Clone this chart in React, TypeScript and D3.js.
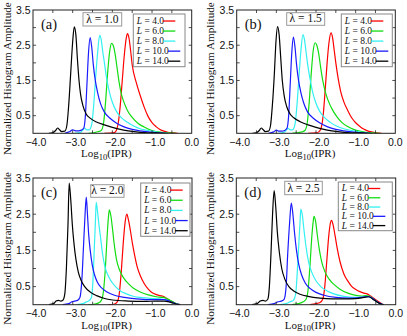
import React from "react";
import * as d3 from "d3";

type Pt = [number, number];

// legend / panel texts
const sizes = ["4.0", "6.0", "8.0", "10.0", "14.0"];
const colors = ["#ff0000", "#11dd11", "#33f0f0", "#1a1aff", "#000000"];
const panelNames = ["(a)", "(b)", "(c)", "(d)"];
const lambdas = ["1.0", "1.5", "2.0", "2.5"];
const xTicks = [-4, -3, -2, -1, 0];
const yTicks = [0.5, 1.5, 2.5, 3.5];

// (a) lambda = 1.0
const a4: Pt[] = [[-2.2,0],[-1.95,0.02],[-1.9,0.08],[-1.85,0.3],[-1.8,0.8],[-1.75,1.5],[-1.7,2.2],[-1.65,2.7],[-1.62,2.83],[-1.58,2.7],[-1.54,2.35],[-1.5,1.95],[-1.4,1.45],[-1.3,1.08],[-1.2,0.75],[-1.1,0.48],[-1.0,0.3],[-0.9,0.19],[-0.8,0.11],[-0.7,0.06],[-0.6,0.03],[-0.45,0.01],[-0.35,0]];
const a6: Pt[] = [[-2.6,0],[-2.45,0.02],[-2.35,0.05],[-2.28,0.08],[-2.22,0.3],[-2.17,0.9],[-2.12,1.7],[-2.07,2.3],[-2.02,2.55],[-1.98,2.5],[-1.93,2.25],[-1.88,1.85],[-1.83,1.45],[-1.78,1.15],[-1.72,0.92],[-1.62,0.65],[-1.5,0.45],[-1.35,0.28],[-1.2,0.18],[-1.0,0.08],[-0.85,0.04],[-0.7,0.02],[-0.5,0.005],[-0.4,0]];
const a8: Pt[] = [[-2.95,0],[-2.8,0.03],[-2.74,0.1],[-2.7,0.15],[-2.65,0.1],[-2.58,0.1],[-2.52,0.25],[-2.47,0.8],[-2.42,1.6],[-2.37,2.3],[-2.32,2.78],[-2.28,2.65],[-2.24,2.3],[-2.2,2.0],[-2.15,1.6],[-2.08,1.2],[-2.0,0.88],[-1.9,0.63],[-1.78,0.45],[-1.63,0.32],[-1.45,0.2],[-1.3,0.13],[-1.1,0.08],[-0.95,0.05],[-0.8,0.02],[-0.6,0]];
const a10: Pt[] = [[-3.2,0],[-3.07,0.05],[-3.0,0.1],[-2.93,0.07],[-2.85,0.07],[-2.78,0.09],[-2.72,0.15],[-2.68,0.5],[-2.64,1.4],[-2.6,2.3],[-2.56,2.72],[-2.52,2.45],[-2.48,1.95],[-2.43,1.5],[-2.37,1.15],[-2.3,0.85],[-2.2,0.6],[-2.05,0.42],[-1.9,0.29],[-1.72,0.19],[-1.5,0.11],[-1.3,0.07],[-1.1,0.04],[-0.9,0.02],[-0.7,0]];
const a14: Pt[] = [[-3.6,0],[-3.5,0.02],[-3.43,0.08],[-3.38,0.15],[-3.33,0.1],[-3.28,0.05],[-3.2,0.06],[-3.15,0.2],[-3.1,0.8],[-3.05,1.7],[-3.0,2.6],[-2.96,3.02],[-2.92,2.8],[-2.88,2.1],[-2.84,1.5],[-2.8,1.1],[-2.74,0.78],[-2.66,0.55],[-2.56,0.43],[-2.4,0.32],[-2.2,0.24],[-2.0,0.17],[-1.8,0.11],[-1.6,0.07],[-1.4,0.04],[-1.2,0.02],[-0.9,0.01],[-0.6,0]];

// (b) lambda = 1.5
const b4: Pt[] = [[-2.2,0],[-2.0,0.01],[-1.93,0.04],[-1.87,0.15],[-1.82,0.5],[-1.77,1.2],[-1.72,2.0],[-1.67,2.6],[-1.62,2.85],[-1.58,2.7],[-1.54,2.35],[-1.5,2.0],[-1.44,1.55],[-1.38,1.2],[-1.3,0.9],[-1.2,0.65],[-1.1,0.44],[-1.0,0.3],[-0.9,0.2],[-0.8,0.12],[-0.7,0.07],[-0.6,0.04],[-0.48,0.01],[-0.35,0]];
const b6: Pt[] = [[-2.6,0],[-2.45,0.02],[-2.35,0.04],[-2.28,0.08],[-2.22,0.3],[-2.17,0.9],[-2.12,1.7],[-2.07,2.35],[-2.02,2.57],[-1.98,2.5],[-1.93,2.25],[-1.88,1.85],[-1.83,1.5],[-1.77,1.2],[-1.7,0.95],[-1.6,0.7],[-1.48,0.48],[-1.35,0.31],[-1.2,0.19],[-1.05,0.11],[-0.9,0.06],[-0.75,0.03],[-0.55,0.01],[-0.4,0]];
const b8: Pt[] = [[-2.95,0],[-2.8,0.03],[-2.74,0.1],[-2.7,0.14],[-2.65,0.1],[-2.59,0.1],[-2.53,0.25],[-2.48,0.8],[-2.43,1.6],[-2.38,2.35],[-2.33,2.8],[-2.29,2.65],[-2.25,2.3],[-2.21,1.95],[-2.16,1.6],[-2.09,1.2],[-2.01,0.88],[-1.91,0.63],[-1.79,0.45],[-1.64,0.31],[-1.47,0.2],[-1.3,0.13],[-1.1,0.08],[-0.95,0.05],[-0.8,0.02],[-0.6,0]];
const b10: Pt[] = [[-3.2,0],[-3.07,0.04],[-3.0,0.09],[-2.93,0.06],[-2.86,0.06],[-2.79,0.08],[-2.73,0.15],[-2.69,0.5],[-2.65,1.4],[-2.61,2.3],[-2.57,2.73],[-2.53,2.45],[-2.49,1.95],[-2.44,1.5],[-2.38,1.15],[-2.31,0.86],[-2.21,0.6],[-2.06,0.42],[-1.9,0.29],[-1.72,0.19],[-1.5,0.11],[-1.3,0.07],[-1.1,0.04],[-0.9,0.02],[-0.7,0]];
const b14: Pt[] = [[-3.6,0],[-3.5,0.02],[-3.43,0.08],[-3.38,0.15],[-3.33,0.1],[-3.28,0.05],[-3.2,0.06],[-3.15,0.2],[-3.1,0.8],[-3.05,1.7],[-3.01,2.6],[-2.97,3.03],[-2.93,2.8],[-2.89,2.15],[-2.85,1.5],[-2.8,1.05],[-2.74,0.76],[-2.66,0.56],[-2.56,0.44],[-2.4,0.33],[-2.2,0.24],[-2.0,0.17],[-1.8,0.11],[-1.6,0.07],[-1.4,0.04],[-1.2,0.02],[-0.9,0.01],[-0.6,0]];

// (c) lambda = 2.0
const c4: Pt[] = [[-2.1,0],[-1.95,0.02],[-1.88,0.08],[-1.83,0.3],[-1.78,0.9],[-1.73,1.7],[-1.68,2.3],[-1.64,2.5],[-1.6,2.35],[-1.55,2.05],[-1.5,1.7],[-1.44,1.35],[-1.38,1.05],[-1.3,0.8],[-1.2,0.58],[-1.1,0.43],[-1.0,0.33],[-0.9,0.28],[-0.8,0.25],[-0.7,0.22],[-0.6,0.15],[-0.5,0.08],[-0.38,0.02],[-0.3,0]];
const c6: Pt[] = [[-2.6,0],[-2.45,0.02],[-2.35,0.05],[-2.28,0.12],[-2.23,0.35],[-2.18,1.0],[-2.14,1.8],[-2.1,2.45],[-2.08,2.62],[-2.04,2.45],[-2.0,2.1],[-1.96,1.7],[-1.9,1.25],[-1.82,0.95],[-1.72,0.74],[-1.6,0.58],[-1.48,0.46],[-1.3,0.35],[-1.1,0.27],[-0.9,0.22],[-0.72,0.2],[-0.6,0.15],[-0.48,0.08],[-0.35,0.01],[-0.3,0]];
const c8: Pt[] = [[-2.9,0],[-2.75,0.03],[-2.65,0.08],[-2.58,0.12],[-2.53,0.2],[-2.49,0.7],[-2.46,1.5],[-2.43,2.3],[-2.41,2.83],[-2.38,2.6],[-2.34,2.2],[-2.3,1.85],[-2.25,1.4],[-2.18,1.0],[-2.1,0.78],[-2.0,0.6],[-1.9,0.47],[-1.8,0.38],[-1.65,0.3],[-1.5,0.24],[-1.3,0.2],[-1.0,0.17],[-0.8,0.16],[-0.65,0.13],[-0.5,0.06],[-0.35,0.01],[-0.3,0]];
const c10: Pt[] = [[-3.25,0],[-3.1,0.03],[-3.02,0.08],[-2.95,0.1],[-2.88,0.12],[-2.82,0.2],[-2.77,0.7],[-2.73,1.6],[-2.69,2.5],[-2.66,2.97],[-2.63,2.5],[-2.6,1.95],[-2.56,1.5],[-2.51,1.1],[-2.45,0.82],[-2.38,0.62],[-2.28,0.47],[-2.15,0.36],[-1.95,0.26],[-1.7,0.2],[-1.4,0.16],[-1.1,0.14],[-0.85,0.14],[-0.7,0.14],[-0.55,0.09],[-0.4,0.02],[-0.3,0]];
const c14: Pt[] = [[-3.6,0],[-3.48,0.03],[-3.42,0.1],[-3.36,0.12],[-3.3,0.1],[-3.25,0.12],[-3.2,0.3],[-3.16,1.0],[-3.12,2.2],[-3.09,3.36],[-3.05,2.9],[-3.01,2.2],[-2.97,1.7],[-2.92,1.25],[-2.86,0.9],[-2.78,0.65],[-2.7,0.5],[-2.55,0.34],[-2.4,0.25],[-2.2,0.17],[-2.0,0.13],[-1.6,0.1],[-1.2,0.09],[-0.9,0.1],[-0.7,0.1],[-0.55,0.07],[-0.4,0.02],[-0.3,0]];

// (d) lambda = 2.5
const d4: Pt[] = [[-2.15,0],[-2.0,0.03],[-1.9,0.06],[-1.83,0.15],[-1.78,0.5],[-1.73,1.2],[-1.68,1.9],[-1.64,2.25],[-1.61,2.33],[-1.57,2.2],[-1.52,1.9],[-1.47,1.57],[-1.4,1.2],[-1.3,0.85],[-1.2,0.65],[-1.1,0.5],[-1.0,0.42],[-0.9,0.36],[-0.8,0.32],[-0.72,0.3],[-0.63,0.24],[-0.5,0.14],[-0.4,0.06],[-0.3,0]];
const d6: Pt[] = [[-2.6,0],[-2.45,0.03],[-2.32,0.08],[-2.25,0.15],[-2.2,0.4],[-2.15,1.1],[-2.11,1.8],[-2.07,2.3],[-2.05,2.44],[-2.01,2.3],[-1.97,1.95],[-1.92,1.55],[-1.86,1.2],[-1.78,0.92],[-1.68,0.72],[-1.55,0.56],[-1.4,0.43],[-1.2,0.32],[-1.0,0.26],[-0.85,0.24],[-0.75,0.25],[-0.65,0.23],[-0.55,0.15],[-0.45,0.07],[-0.35,0.01],[-0.3,0]];
const d8: Pt[] = [[-2.9,0],[-2.75,0.03],[-2.65,0.08],[-2.57,0.12],[-2.51,0.3],[-2.47,0.9],[-2.43,1.7],[-2.4,2.3],[-2.38,2.64],[-2.34,2.45],[-2.3,2.05],[-2.25,1.6],[-2.19,1.2],[-2.1,0.88],[-2.0,0.66],[-1.88,0.5],[-1.72,0.38],[-1.55,0.3],[-1.3,0.23],[-1.05,0.2],[-0.85,0.21],[-0.72,0.23],[-0.62,0.2],[-0.5,0.1],[-0.38,0.02],[-0.3,0]];
const d10: Pt[] = [[-3.2,0],[-3.05,0.03],[-2.95,0.08],[-2.87,0.1],[-2.8,0.15],[-2.75,0.5],[-2.71,1.4],[-2.66,2.3],[-2.62,2.81],[-2.58,2.5],[-2.54,2.0],[-2.49,1.5],[-2.43,1.1],[-2.36,0.82],[-2.27,0.6],[-2.15,0.45],[-2.0,0.34],[-1.8,0.26],[-1.5,0.2],[-1.2,0.18],[-0.95,0.19],[-0.78,0.22],[-0.66,0.22],[-0.55,0.15],[-0.42,0.05],[-0.32,0]];
const d14: Pt[] = [[-3.6,0],[-3.48,0.03],[-3.4,0.1],[-3.33,0.12],[-3.27,0.1],[-3.21,0.15],[-3.17,0.5],[-3.13,1.4],[-3.09,2.5],[-3.05,3.15],[-3.01,2.7],[-2.97,2.0],[-2.92,1.45],[-2.86,1.0],[-2.78,0.7],[-2.68,0.5],[-2.55,0.37],[-2.4,0.29],[-2.2,0.23],[-1.9,0.18],[-1.6,0.16],[-1.3,0.16],[-1.0,0.17],[-0.8,0.2],[-0.68,0.22],[-0.58,0.16],[-0.45,0.06],[-0.35,0.01],[-0.3,0]];

const curves: Pt[][][] = [
  [a4, a6, a8, a10, a14],
  [b4, b6, b8, b10, b14],
  [c4, c6, c8, c10, c14],
  [d4, d6, d8, d10, d14],
];

// frame, lambda box, legend box positions (px)
const layout = [
  { x0: 33, x1: 191.7, y0: 10, y1: 133.3, lam: [83, 12.7, 38.7, 13.3], leg: [133.3, 14, 51.7, 52.7] },
  { x0: 236.7, x1: 395.3, y0: 10, y1: 133.3, lam: [286.7, 12.7, 38, 12.6], leg: [341.3, 14, 51, 52.7] },
  { x0: 33, x1: 192, y0: 178, y1: 304.7, lam: [90.7, 184.7, 33.3, 12.6], leg: [140.7, 183, 49.3, 53.3] },
  { x0: 236.3, x1: 395.7, y0: 178, y1: 304.7, lam: [284.7, 181.3, 37.6, 13.4], leg: [338.3, 182, 54, 48.7] },
];

const serif = "'Liberation Serif', 'Times New Roman', serif";
const sans = "'Liberation Sans', Arial, sans-serif";

function Panel({ i }: { i: number }) {
  const L = layout[i];
  const x = d3.scaleLinear().domain([-4, 0]).range([L.x0, L.x1]);
  const y = d3.scaleLinear().domain([0, 3.5]).range([L.y1, L.y0]);
  const line = d3
    .line<Pt>()
    .x((d) => x(d[0]))
    .y((d) => y(d[1]))
    .curve(d3.curveMonotoneX);
  const xMinor = d3.range(-3.5, 0, 0.5);
  const yMinor = d3.range(0.5, 3.5, 0.5);
  const [lx, ly, lw, lh] = L.lam;
  const [gx, gy, gw, gh] = L.leg;
  const sp = gh / 5.25;
  const clipId = "clip" + i;

  return (
    <g>
      <defs>
        <clipPath id={clipId}>
          <rect x={L.x0} y={L.y0} width={L.x1 - L.x0} height={L.y1 - L.y0} />
        </clipPath>
      </defs>
      <g clipPath={`url(#${clipId})`}>
        {curves[i].map((c, k) => (
          <path key={k} d={line(c) || ""} fill="none" stroke={colors[k]} strokeWidth={1.2} />
        ))}
      </g>
      {/* ticks */}
      <g stroke="#222" strokeWidth={0.8}>
        {xMinor.map((v) => (
          <g key={"x" + v}>
            <line x1={x(v)} x2={x(v)} y1={L.y1} y2={L.y1 - 3} />
            <line x1={x(v)} x2={x(v)} y1={L.y0} y2={L.y0 + 3} />
          </g>
        ))}
        {yMinor.map((v) => (
          <g key={"y" + v}>
            <line x1={L.x0} x2={L.x0 + 3} y1={y(v)} y2={y(v)} />
            <line x1={L.x1} x2={L.x1 - 3} y1={y(v)} y2={y(v)} />
          </g>
        ))}
      </g>
      <rect x={L.x0} y={L.y0} width={L.x1 - L.x0} height={L.y1 - L.y0} fill="none" stroke="#222" strokeWidth={1} />
      {/* tick labels */}
      <g fontFamily={sans} fontSize={10.5} fill="#111">
        {xTicks.map((v) => (
          <text key={v} x={x(v) + (v < 0 ? 3 : 0)} y={L.y1 + 12.5} textAnchor="middle">
            {(v < 0 ? "\u2212" : "") + Math.abs(v).toFixed(1)}
          </text>
        ))}
        {yTicks.map((v) => (
          <text key={v} x={L.x0 - 2.5} y={y(v)} dy="0.35em" textAnchor="end">
            {v.toFixed(1)}
          </text>
        ))}
      </g>
      {/* axis titles */}
      <text
        x={(L.x0 + L.x1) / 2 - 6}
        y={L.y1 + 24}
        textAnchor="middle"
        fontFamily={serif}
        fontSize={11}
        fill="#111"
      >
        Log<tspan fontSize={8.5} dy={2.5}>10</tspan>
        <tspan dy={-2.5}>(IPR)</tspan>
      </text>
      <text
        transform={`translate(${L.x0 - 22.5},${(L.y0 + L.y1) / 2 + 7}) rotate(-90)`}
        textAnchor="middle"
        fontFamily={serif}
        fontSize={11.2}
        fill="#111"
      >
        Normalized Histogram Amplitude
      </text>
      {/* panel label */}
      <text x={L.x0 + 8} y={L.y0 + 19} fontFamily={serif} fontSize={14.5} fill="#111">
        {panelNames[i]}
      </text>
      {/* lambda box */}
      <rect x={lx} y={ly} width={lw} height={lh} fill="#fff" stroke="#999" strokeWidth={1} />
      <text x={lx + lw / 2} y={ly + lh - 3} textAnchor="middle" fontFamily={serif} fontSize={11.5} fill="#111">
        {"\u03bb = " + lambdas[i]}
      </text>
      {/* legend */}
      <rect x={gx} y={gy} width={gw} height={gh} fill="#fff" stroke="#888" strokeWidth={1} />
      {sizes.map((s, k) => {
        const by = gy + 3 + (k + 0.7) * sp;
        const tx = gx + 3.5;
        const lx1 = tx + (s.length === 3 ? 26 : 31);
        return (
          <g key={s}>
            <text x={tx} y={by} fontFamily={serif} fontSize={9.5} fill="#111">
              <tspan fontStyle="italic">L</tspan>
              {" = " + s}
            </text>
            <line x1={lx1} x2={lx1 + 12.5} y1={by - 3} y2={by - 3} stroke={colors[k]} strokeWidth={1.3} />
          </g>
        );
      })}
    </g>
  );
}

export default function App() {
  return (
    <svg
      width={407}
      height={336}
      style={{ position: "absolute", left: 0, top: 0, background: "#fff" }}
    >
      {layout.map((_, i) => (
        <Panel key={i} i={i} />
      ))}
    </svg>
  );
}
